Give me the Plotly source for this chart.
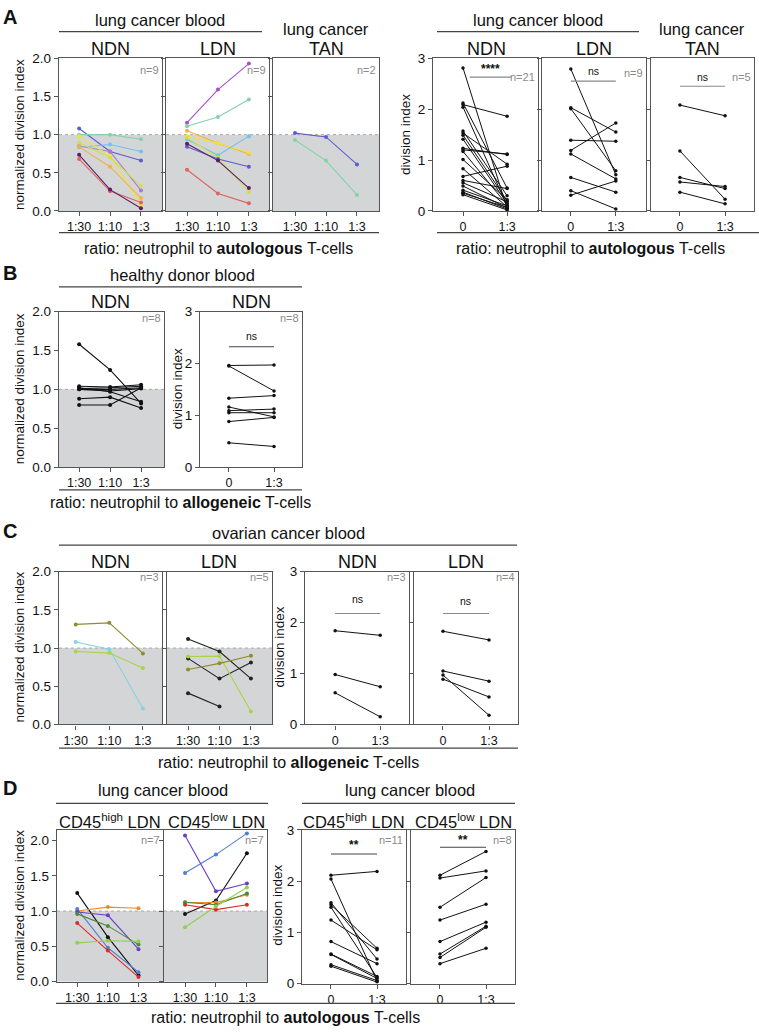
import plotly.graph_objects as go

W, H = 759, 1034

# ---------------- data ----------------
ratio3 = ["1:30", "1:10", "1:3"]
pair = ["0", "1:3"]

# Panel A: normalized division index (lung cancer)
a_ndn_norm = [[1.08, 0.78, 0.66], [0.85, 0.78, 0.27], [1.00, 1.00, 0.94],
              [0.835, 0.87, 0.78], [0.98, 0.72, 0.08], [0.895, 0.70, 0.33],
              [0.84, 0.58, 0.17], [0.68, 0.26, 0.11], [0.735, 0.28, 0.035]]
a_ldn_norm = [[1.157, 1.59, 1.93], [1.11, 1.23, 1.46], [1.05, 0.886, 0.745],
              [0.98, 0.886, 0.765], [0.94, 0.73, 0.98], [0.96, 0.70, 0.25],
              [0.84, 0.68, 0.58], [0.88, 0.66, 0.30], [0.54, 0.23, 0.10]]
a_tan_norm = [[1.02, 0.97, 0.61], [0.93, 0.66, 0.21]]

# Panel A: division index pairs (0 vs 1:3)
a_ndn_div_0 = [2.81, 2.12, 2.09, 2.04, 1.57, 1.53, 1.49, 1.41, 1.23, 1.20, 1.17,
               1.01, 0.83, 0.68, 0.60, 0.555, 0.49, 0.41, 0.37, 0.35, 0.32]
a_ndn_div_13 = [0.05, 0.45, 1.86, 0.10, 0.30, 0.92, 0.20, 0.15, 1.11, 1.12, 0.12,
                0.22, 0.08, 0.88, 0.44, 0.18, 0.06, 0.10, 0.04, 0.07, 0.02]
a_ldn_div_0 = [2.79, 2.03, 2.01, 1.39, 1.19, 1.12, 0.66, 0.40, 0.31]
a_ldn_div_13 = [0.71, 1.55, 0.79, 1.37, 1.73, 0.63, 0.37, 0.04, 0.59]
a_tan_div_0 = [2.08, 1.18, 0.66, 0.57, 0.37]
a_tan_div_13 = [1.87, 0.23, 0.44, 0.48, 0.14]

# Panel B: healthy donor
b_ndn_norm = [[1.58, 1.25, 0.82], [0.80, 0.80, 1.02], [0.88, 0.90, 0.76],
              [1.02, 0.97, 0.84], [1.04, 1.03, 1.06], [1.01, 1.02, 1.04],
              [1.00, 0.98, 1.01], [1.00, 1.00, 1.02]]
b_ndn_div_0 = [1.96, 1.95, 1.33, 1.16, 1.09, 1.05, 0.88, 0.47]
b_ndn_div_13 = [1.97, 1.47, 1.38, 0.97, 1.12, 1.05, 0.96, 0.40]

# Panel C: ovarian cancer
c_ndn_norm = [[1.31, 1.33, 0.93], [1.08, 0.985, 0.21], [0.955, 0.934, 0.74]]
c_ldn_norm = [[1.12, 0.955, 0.60], [0.865, 0.60, 0.81], [0.41, 0.235, None],
              [0.89, 0.895, 0.17], [0.72, 0.80, 0.90]]
c_ndn_div_0 = [1.84, 0.98, 0.62]
c_ndn_div_13 = [1.75, 0.74, 0.15]
c_ldn_div_0 = [1.83, 1.05, 0.97, 0.89]
c_ldn_div_13 = [1.66, 0.85, 0.18, 0.54]

# Panel D: CD45 high / low LDN
d_high_norm = [[1.255, 0.63, 0.09], [1.00, 1.056, 1.04], [1.03, 0.48, 0.135],
               [0.986, 0.94, 0.46], [0.96, 0.79, 0.525], [0.83, 0.44, 0.065],
               [0.55, 0.58, 0.57]]
d_low_norm = [[0.96, 1.15, 1.82], [1.12, 1.12, 1.23], [1.54, 1.80, 2.10],
              [2.07, 1.28, 1.39], [1.125, 1.09, 1.25], [1.09, 1.02, 1.09],
              [0.77, 1.065, 1.335]]
d_high_div_0 = [2.115, 2.04, 1.58, 1.54, 1.49, 1.24, 0.82, 0.577, 0.57, 0.37, 0.34]
d_high_div_13 = [2.19, 0.05, 0.48, 0.69, 0.12, 0.66, 0.39, 0.14, 0.10, 0.06, 0.03]
d_low_div_0 = [2.115, 2.06, 1.49, 1.24, 0.82, 0.577, 0.51, 0.39]
d_low_div_13 = [2.58, 2.20, 2.07, 1.55, 1.20, 1.12, 1.10, 0.69]

norm_ticks = [0, 0.5, 1.0, 1.5, 2.0]
norm_ticktext = ["0.0", "0.5", "1.0", "1.5", "2.0"]
div_ticks = [0, 1, 2, 3]
div_ticktext = ["0", "1", "2", "3"]

# ---------------- styles ----------------
A_NDN_COL = ["#5b5ec9", "#a77ad8", "#82d4a8", "#6ec3ef", "#f2e33a", "#cfe04a",
             "#f5b043", "#e2625c", "#5a1b68"]
A_LDN_COL = ["#a352c9", "#82d4a8", "#f5b043", "#f2e33a", "#6ec3ef", "#cfe04a",
             "#5b5ec9", "#5a1b68", "#e2625c"]
A_TAN_COL = ["#5b5ec9", "#82d4a8"]
C_NDN_COL = ["#8f8d2f", "#86d2e0", "#a8d448"]
C_LDN_COL = ["#222222", "#222222", "#222222", "#a8d448", "#8f8d2f"]
D_COL = ["#111111", "#f08c28", "#4f7fd6", "#6b3fc4", "#4c8a3c", "#e02828", "#8fd14f"]

FONT = "Arial, Liberation Sans, Helvetica, sans-serif"
BOX = "#555555"
SHADE = "#d4d5d7"
GROUP_FS = 16.5
TITLE_FS = 18
CAP_FS = 16
YT_FS = 13.5

fig = go.Figure()
layout = dict(
    width=W, height=H, margin=dict(l=0, r=0, t=0, b=0),
    paper_bgcolor="white", plot_bgcolor="rgba(0,0,0,0)",
    showlegend=False, font=dict(family=FONT, color="#111"),
)
annotations = []
shapes = []


def xr(i):
    return "x" if i == 1 else f"x{i}"


def yr(i):
    return "y" if i == 1 else f"y{i}"


def px(x):
    return x / W


def py(y):
    return 1 - y / H


def add_panel(idx, x0, x1, y0, y1, cats, xrange, yrange, first, tvals, ttext):
    xk = "xaxis" if idx == 1 else f"xaxis{idx}"
    yk = "yaxis" if idx == 1 else f"yaxis{idx}"
    layout[xk] = dict(
        domain=[px(x0), px(x1)], anchor=yr(idx), type="category",
        categoryorder="array", categoryarray=cats, range=xrange,
        showline=True, mirror=True, linecolor=BOX, linewidth=1.3,
        ticks="outside", ticklen=4, tickcolor=BOX, tickwidth=1,
        tickfont=dict(size=12.5, family=FONT, color="#111"),
        showgrid=False, zeroline=False, fixedrange=True,
    )
    layout[yk] = dict(
        domain=[py(y1), py(y0)], anchor=xr(idx), range=yrange,
        showline=True, mirror=True, linecolor=BOX, linewidth=1.3,
        ticks="outside", ticklen=4, tickcolor=BOX, tickwidth=1,
        tickvals=tvals, ticktext=ttext, showticklabels=first,
        tickfont=dict(size=13.5, family=FONT, color="#111"),
        showgrid=False, zeroline=False, fixedrange=True,
    )


def shade(idx):
    shapes.append(dict(type="rect", xref=f"{xr(idx)} domain", yref=yr(idx),
                       x0=0, x1=1, y0=0, y1=1, fillcolor=SHADE, line=dict(width=0),
                       layer="below"))
    shapes.append(dict(type="line", xref=f"{xr(idx)} domain", yref=yr(idx),
                       x0=0, x1=1, y0=1, y1=1, line=dict(color="#a8a8a8", width=1, dash="dot"),
                       layer="below"))


def norm_lines(idx, rows, colors, size=4):
    for vals, col in zip(rows, colors):
        xs = [c for c, v in zip(ratio3, vals) if v is not None]
        ys = [v for v in vals if v is not None]
        fig.add_trace(go.Scatter(x=xs, y=ys, mode="lines+markers",
                                 line=dict(color=col, width=1.1),
                                 marker=dict(color=col, size=size),
                                 xaxis=xr(idx), yaxis=yr(idx), hoverinfo="skip"))


def pair_lines(idx, v0, v13):
    for a, b in zip(v0, v13):
        fig.add_trace(go.Scatter(x=pair, y=[a, b], mode="lines+markers",
                                 line=dict(color="#111", width=1),
                                 marker=dict(color="#111", size=3.5),
                                 xaxis=xr(idx), yaxis=yr(idx), hoverinfo="skip"))


def text(x, y, s, size, bold=False, color="#111", xanchor="center", angle=0):
    annotations.append(dict(x=px(x), y=py(y), xref="paper", yref="paper",
                            text=f"<b>{s}</b>" if bold else s, showarrow=False,
                            xanchor=xanchor, yanchor="middle", textangle=angle,
                            font=dict(size=size, family=FONT, color=color)))


def hline(x0, x1, y, color="#444", width=1.3):
    shapes.append(dict(type="line", xref="paper", yref="paper",
                       x0=px(x0), x1=px(x1), y0=py(y), y1=py(y),
                       line=dict(color=color, width=width)))


def nlabel(idx, s, ydata):
    annotations.append(dict(x=1, y=ydata, xref=f"{xr(idx)} domain", yref=yr(idx),
                            text=s, showarrow=False, xanchor="right", yanchor="middle",
                            xshift=-1, font=dict(size=11, family=FONT, color="#8a8a8a")))


def sig(idx, s, ytext, yline, x0=0, x1=1, size=10.5, bold=False, color="#888"):
    shapes.append(dict(type="line", xref=xr(idx), yref=yr(idx),
                       x0=x0, x1=x1, y0=yline, y1=yline, line=dict(color=color, width=1.1)))
    annotations.append(dict(x=(x0 + x1) / 2, y=ytext, xref=xr(idx), yref=yr(idx),
                            text=f"<b>{s}</b>" if bold else s, showarrow=False,
                            yanchor="middle", font=dict(size=size, family=FONT, color="#111")))


# ---------------- Panel A ----------------
add_panel(1, 59, 162, 52, 207, ratio3, [-0.65, 2.68], [0, 2], True, norm_ticks, norm_ticktext)
add_panel(2, 166, 269, 52, 207, ratio3, [-0.68, 2.65], [0, 2], False, norm_ticks, norm_ticktext)
add_panel(3, 273, 379, 52, 207, ratio3, [-0.71, 2.71], [0, 2], False, norm_ticks, norm_ticktext)
for i in (1, 2, 3):
    shade(i)
norm_lines(1, a_ndn_norm, A_NDN_COL)
norm_lines(2, a_ldn_norm, A_LDN_COL)
norm_lines(3, a_tan_norm, A_TAN_COL)
nlabel(1, "n=9", 1.85)
nlabel(2, "n=9", 1.85)
nlabel(3, "n=2", 1.85)

add_panel(4, 433, 538, 52, 207, pair, [-0.68, 1.70], [0, 3], True, div_ticks, div_ticktext)
add_panel(5, 542, 646, 52, 207, pair, [-0.64, 1.67], [0, 3], False, div_ticks, div_ticktext)
add_panel(6, 651, 754, 52, 207, pair, [-0.64, 1.64], [0, 3], False, div_ticks, div_ticktext)
pair_lines(4, a_ndn_div_0, a_ndn_div_13)
pair_lines(5, a_ldn_div_0, a_ldn_div_13)
pair_lines(6, a_tan_div_0, a_tan_div_13)
sig(4, "****", 2.79, 2.63, 0.15, 1.1, size=12, bold=True)
sig(5, "ns", 2.74, 2.55)
sig(6, "ns", 2.63, 2.45)
nlabel(4, "n=21", 2.63)
nlabel(5, "n=9", 2.72)
nlabel(6, "n=5", 2.63)

text(1, 10, "A", 20, bold=True, xanchor="left")
text(160, 13, "lung cancer blood", GROUP_FS)
hline(59, 262, 25)
text(110, 43, "NDN", TITLE_FS)
text(218, 43, "LDN", TITLE_FS)
text(326, 22, "lung cancer", GROUP_FS)
text(326, 43, "TAN", TITLE_FS)
text(19, 130, "normalized division index", YT_FS, angle=-90)
hline(59, 379, 229)
text(218, 245, "ratio: neutrophil to <b>autologous</b> T-cells", CAP_FS)

text(538, 13, "lung cancer blood", GROUP_FS)
hline(437, 639, 25)
text(486, 43, "NDN", TITLE_FS)
text(594, 43, "LDN", TITLE_FS)
text(702, 22, "lung cancer", GROUP_FS)
text(702, 43, "TAN", TITLE_FS)
text(405, 130, "division index", YT_FS, angle=-90)
hline(437, 759, 229)
text(590, 245, "ratio: neutrophil to <b>autologous</b> T-cells", CAP_FS)

# ---------------- Panel B ----------------
add_panel(7, 59, 164, 309, 467, ratio3, [-0.65, 2.74], [0, 2], True, norm_ticks, norm_ticktext)
shade(7)
norm_lines(7, b_ndn_norm, ["#111111"] * len(b_ndn_norm))
nlabel(7, "n=8", 1.92)
add_panel(8, 200, 302, 309, 467, pair, [-0.64, 1.62], [0, 3], True, div_ticks, div_ticktext)
pair_lines(8, b_ndn_div_0, b_ndn_div_13)
sig(8, "ns", 2.53, 2.32, color="#444")
nlabel(8, "n=8", 2.88)

text(1, 270, "B", 20, bold=True, xanchor="left")
text(182, 272, "healthy donor blood", GROUP_FS)
hline(59, 302, 284)
text(111, 299, "NDN", TITLE_FS)
text(251, 299, "NDN", TITLE_FS)
text(19, 388, "normalized division index", YT_FS, angle=-90)
text(177, 388, "division index", YT_FS, angle=-90)
hline(59, 302, 490)
text(180, 503, "ratio: neutrophil to <b>allogeneic</b> T-cells", CAP_FS)

# ---------------- Panel C ----------------
add_panel(9, 59, 162, 573, 728, ratio3, [-0.5, 2.57], [0, 2], True, norm_ticks, norm_ticktext)
add_panel(10, 167, 272, 573, 728, ratio3, [-0.67, 2.67], [0, 2], False, norm_ticks, norm_ticktext)
shade(9)
shade(10)
norm_lines(9, c_ndn_norm, C_NDN_COL)
norm_lines(10, c_ldn_norm, C_LDN_COL)
nlabel(9, "n=3", 1.93)
nlabel(10, "n=5", 1.93)
add_panel(11, 305, 409, 573, 728, pair, [-0.67, 1.64], [0, 3], True, div_ticks, div_ticktext)
add_panel(12, 414, 518, 573, 728, pair, [-0.63, 1.63], [0, 3], False, div_ticks, div_ticktext)
pair_lines(11, c_ndn_div_0, c_ndn_div_13)
pair_lines(12, c_ldn_div_0, c_ldn_div_13)
sig(11, "ns", 2.47, 2.18)
sig(12, "ns", 2.42, 2.18)
nlabel(11, "n=3", 2.9)
nlabel(12, "n=4", 2.9)

text(1, 532, "C", 20, bold=True, xanchor="left")
text(288, 534, "ovarian cancer blood", GROUP_FS)
hline(59, 517, 546)
text(110, 563, "NDN", TITLE_FS)
text(219, 563, "LDN", TITLE_FS)
text(357, 563, "NDN", TITLE_FS)
text(466, 563, "LDN", TITLE_FS)
text(20, 650, "normalized division index", YT_FS, angle=-90)
text(280, 650, "division index", YT_FS, angle=-90)
hline(59, 518, 752)
text(288, 767, "ratio: neutrophil to <b>allogeneic</b> T-cells", CAP_FS)

# ---------------- Panel D ----------------
add_panel(13, 57, 163, 835, 989, ratio3, [-0.66, 2.8], [0, 2.15], True, norm_ticks, norm_ticktext)
add_panel(14, 164, 267, 835, 989, ratio3, [-0.68, 2.65], [0, 2.15], False, norm_ticks, norm_ticktext)
shade(13)
shade(14)
norm_lines(13, d_high_norm, D_COL)
norm_lines(14, d_low_norm, D_COL)
nlabel(13, "n=7", 2.0)
nlabel(14, "n=7", 2.0)
add_panel(15, 302, 406, 835, 991, pair, [-0.63, 1.63], [0, 3], True, div_ticks, div_ticktext)
add_panel(16, 411, 515, 835, 991, pair, [-0.63, 1.63], [0, 3], False, div_ticks, div_ticktext)
pair_lines(15, d_high_div_0, d_high_div_13)
pair_lines(16, d_low_div_0, d_low_div_13)
sig(15, "**", 2.71, 2.53, size=12, bold=True, color="#444")
sig(16, "**", 2.80, 2.66, size=12, bold=True, color="#444")
nlabel(15, "n=11", 2.8)
nlabel(16, "n=8", 2.8)

text(1, 793, "D", 20, bold=True, xanchor="left")
text(163, 795, "lung cancer blood", GROUP_FS)
hline(56, 268, 808)
text(410, 795, "lung cancer blood", GROUP_FS)
hline(302, 515, 808)
text(110, 826, "CD45<sup>high</sup> LDN", 16.5)
text(216, 826, "CD45<sup>low</sup> LDN", 16.5)
text(354, 826, "CD45<sup>high</sup> LDN", 16.5)
text(463, 826, "CD45<sup>low</sup> LDN", 16.5)
text(20, 912, "normalized division index", YT_FS, angle=-90)
text(278, 912, "division index", YT_FS, angle=-90)
hline(56, 515, 1011)
text(285, 1025, "ratio: neutrophil to <b>autologous</b> T-cells", CAP_FS)

layout["annotations"] = annotations
layout["shapes"] = shapes
fig.update_layout(**layout)
fig.write_html(
    "out.html",
    config={"displayModeBar": False},
    post_script="document.body.style.margin='0';document.body.style.padding='0';",
)
